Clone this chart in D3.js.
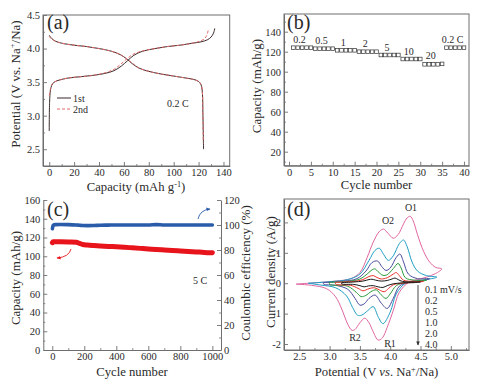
<!DOCTYPE html>
<html><head><meta charset="utf-8">
<script src="https://cdn.jsdelivr.net/npm/d3@7"></script>
<style>
body{margin:0;background:#fff}
svg{display:block;font-family:"Liberation Serif","Times New Roman",serif}
</style></head><body>
<svg id="c" width="487" height="392"></svg>
<script>
// ---------- Panel (a): charge/discharge profiles ----------
const capCh1 = [0, 0.3, 1, 2, 4, 8, 15, 25, 35, 45, 52, 58, 63, 68, 75, 85, 95, 105, 115, 122, 127, 130, 132, 133];
const vCh1   = [2.77, 3.2, 3.38, 3.45, 3.5, 3.53, 3.56, 3.58, 3.6, 3.63, 3.67, 3.74, 3.82, 3.9, 3.96, 4.0, 4.03, 4.05, 4.08, 4.1, 4.13, 4.17, 4.23, 4.3];
const capCh2 = [0, 1, 2, 4, 8, 15, 25, 35, 45, 52, 57, 62, 67, 74, 85, 95, 105, 115, 121, 125, 127, 128];
const vCh2   = [3.3, 3.4, 3.46, 3.5, 3.53, 3.56, 3.58, 3.6, 3.64, 3.69, 3.76, 3.84, 3.91, 3.96, 4.0, 4.03, 4.05, 4.08, 4.11, 4.15, 4.22, 4.3];
const capDis1 = [0, 2, 5, 10, 20, 30, 40, 50, 57, 62, 67, 72, 80, 90, 100, 110, 116, 120, 122, 123, 123.5, 124];
const vDis1   = [4.2, 4.15, 4.11, 4.08, 4.05, 4.03, 4.0, 3.96, 3.91, 3.85, 3.77, 3.71, 3.66, 3.62, 3.59, 3.56, 3.54, 3.51, 3.46, 3.35, 3.0, 2.5];
const capDis2 = [0, 2, 5, 10, 20, 30, 40, 50, 57, 62, 67, 72, 80, 90, 100, 110, 116, 120, 122, 123, 123.4, 123.8];
const vDis2   = [4.18, 4.14, 4.11, 4.08, 4.05, 4.03, 4.0, 3.96, 3.91, 3.85, 3.78, 3.71, 3.66, 3.62, 3.59, 3.56, 3.54, 3.51, 3.46, 3.36, 3.05, 2.6];
const capTicks = [0, 20, 40, 60, 80, 100, 120, 140];
const potTicks = [2.5, 3.0, 3.5, 4.0, 4.5];

// ---------- Panel (b): rate capability ----------
const rateCycles = d3.range(1, 41);
const rateCaps = [124,124,124,124,124, 123,123,123,123,123, 121.4,121.4,121.4,121.4,121.4,
                  120,120,120,120,120, 116.7,116.7,116.7,116.7,116.7, 112.7,112.7,112.7,112.7,112.7,
                  107.4,107.4,107.4,107.4,107.8, 124,124,124,124,124];
const rateLabels = ["0.2", "0.5", "1", "2", "5", "10", "20", "0.2 C"];
const cycTicksB = [0, 5, 10, 15, 20, 25, 30, 35, 40];
const capTicksB = [20, 40, 60, 80, 100, 120, 140];

// ---------- Panel (c): long cycling at 5 C ----------
const cycC = [1, 5, 20, 50, 100, 150, 170, 190, 220, 260, 300, 350, 400, 450, 500, 550, 600, 650, 700, 750, 800, 850, 900, 950, 1000];
const capC = [114.5, 115.5, 115.5, 115.4, 115.2, 114.9, 113.8, 112.5, 111.9, 111.4, 111.0, 110.5, 110.1, 109.6, 109.0, 108.4, 107.8, 107.3, 106.7, 106.1, 105.6, 105.1, 104.6, 104.1, 103.8];
const ceC  = [97, 99.8, 100.3, 100.4, 100.3, 100.0, 99.8, 99.6, 99.5, 99.6, 99.8, 99.9, 100, 100, 100, 100, 100, 100.3, 100, 100, 100, 100, 100, 100, 100];
const cycTicksC = [0, 200, 400, 600, 800, 1000];
const capTicksC = [0, 20, 40, 60, 80, 100, 120, 140, 160];
const ceTicksC = [0, 20, 40, 60, 80, 100, 120];

// ---------- Panel (d): CV at various scan rates ----------
const scanRates = ["0.1 mV/s", "0.2", "0.5", "1.0", "2.0", "4.0"];
const cvColors = ["#1a1a1a", "#e8322c", "#2a9a3c", "#4b4b9e", "#1f9fc4", "#e0659f"];
const cv01 = [[3.2,0.02],[3.4,0.04],[3.55,0.07],[3.65,0.12],[3.7,0.13],[3.76,0.1],[3.85,0.07],[3.95,0.09],[4.03,0.14],[4.08,0.17],[4.13,0.12],[4.2,0.06],[4.4,0.04],[4.5,0.04],[4.4,0.02],[4.2,0.01],[4.05,-0.02],[3.95,-0.08],[3.88,-0.14],[3.8,-0.12],[3.72,-0.08],[3.64,-0.09],[3.57,-0.12],[3.5,-0.08],[3.4,-0.04],[3.2,-0.02],[3.2,0.02]];
const cv02 = [[3.1,0.03],[3.4,0.06],[3.55,0.12],[3.65,0.22],[3.72,0.25],[3.78,0.19],[3.85,0.14],[3.95,0.18],[4.05,0.3],[4.1,0.35],[4.15,0.25],[4.22,0.1],[4.4,0.06],[4.55,0.06],[4.4,0.03],[4.2,0.0],[4.05,-0.05],[3.97,-0.18],[3.9,-0.28],[3.82,-0.22],[3.74,-0.15],[3.65,-0.18],[3.55,-0.25],[3.47,-0.17],[3.35,-0.07],[3.1,-0.03],[3.1,0.03]];
const cv05 = [[3.0,0.03],[3.3,0.06],[3.5,0.14],[3.63,0.32],[3.7,0.44],[3.75,0.47],[3.8,0.38],[3.88,0.26],[3.95,0.28],[4.05,0.48],[4.13,0.65],[4.18,0.5],[4.25,0.18],[4.4,0.1],[4.6,0.1],[4.45,0.05],[4.25,0.02],[4.1,-0.08],[4.0,-0.35],[3.93,-0.5],[3.85,-0.38],[3.77,-0.22],[3.68,-0.28],[3.6,-0.4],[3.52,-0.44],[3.44,-0.3],[3.3,-0.1],[3.0,-0.04],[3.0,0.03]];
const cv10 = [[2.9,0.02],[3.2,0.06],[3.45,0.15],[3.6,0.4],[3.7,0.68],[3.79,0.73],[3.86,0.55],[3.93,0.42],[4.0,0.5],[4.1,0.85],[4.16,0.96],[4.22,0.7],[4.3,0.3],[4.45,0.15],[4.65,0.15],[4.5,0.07],[4.3,0.03],[4.15,-0.1],[4.05,-0.5],[3.95,-0.83],[3.85,-0.65],[3.75,-0.39],[3.65,-0.5],[3.57,-0.68],[3.5,-0.72],[3.42,-0.5],[3.3,-0.2],[3.1,-0.07],[2.9,-0.03],[2.9,0.02]];
const cv20 = [[2.65,0.0],[3.0,0.05],[3.3,0.12],[3.5,0.3],[3.65,0.75],[3.75,1.08],[3.82,1.15],[3.89,0.95],[3.97,0.75],[4.05,0.9],[4.15,1.3],[4.22,1.42],[4.28,1.2],[4.36,0.7],[4.45,0.4],[4.6,0.25],[4.77,0.2],[4.6,0.12],[4.4,0.06],[4.25,0.0],[4.1,-0.35],[4.0,-0.95],[3.88,-1.33],[3.8,-1.1],[3.72,-0.77],[3.63,-0.9],[3.53,-1.05],[3.46,-1.05],[3.38,-0.8],[3.28,-0.42],[3.1,-0.15],[2.85,-0.06],[2.65,0.0]];
const cv40 = [[2.45,-0.03],[2.8,0.02],[3.1,0.07],[3.35,0.15],[3.5,0.35],[3.62,0.85],[3.72,1.35],[3.82,1.7],[3.89,1.78],[3.96,1.65],[4.05,1.48],[4.13,1.6],[4.22,1.95],[4.28,2.15],[4.33,2.2],[4.38,2.05],[4.45,1.6],[4.55,1.05],[4.65,0.7],[4.75,0.52],[4.85,0.47],[4.75,0.32],[4.6,0.2],[4.45,0.12],[4.3,0.02],[4.15,-0.3],[4.05,-0.9],[3.95,-1.45],[3.87,-1.8],[3.8,-1.87],[3.72,-1.6],[3.65,-1.3],[3.58,-1.15],[3.5,-1.3],[3.42,-1.52],[3.37,-1.55],[3.3,-1.35],[3.2,-0.85],[3.1,-0.45],[2.95,-0.18],[2.7,-0.07],[2.45,-0.03]];
const cvTicksX = [2.5, 3.0, 3.5, 4.0, 4.5, 5.0];
const cvTicksY = [-2, -1, 0, 1, 2];

// ================= drawing =================
const svg = d3.select("#c");
const AX = "#6e6e6e", TX = "#2a2a2a";
const TICK_FS = 10.5, XT_FS = 12.7, YT_FS = 13;

function styleAxis(sel) {
  sel.select(".domain").attr("stroke", AX).attr("stroke-width", 1);
  sel.selectAll(".tick line").attr("stroke", AX).attr("stroke-width", 0.9);
  sel.selectAll(".tick text").attr("fill", TX).attr("font-size", TICK_FS);
  sel.attr("font-family", null).attr("font-size", null);
}
function minor(g, axisGen, vals) {
  const s = g.append("g").call(axisGen.tickValues(vals).tickSize(-2).tickSizeOuter(0).tickFormat(""));
  s.select(".domain").remove();
  s.attr("font-family", null).attr("font-size", null);
  s.selectAll(".tick line").attr("stroke", AX).attr("stroke-width", 0.8);
  return s;
}
function box(x, y) {
  svg.append("rect").attr("x", x.range()[0]).attr("y", y.range()[1])
    .attr("width", x.range()[1] - x.range()[0]).attr("height", y.range()[0] - y.range()[1])
    .attr("fill", "none").attr("stroke", AX).attr("stroke-width", 1);
}
function bottomAxis(x, y, ticks, fmt, minorVals) {
  const g = svg.append("g").attr("transform", `translate(0,${y.range()[0]})`);
  g.call(d3.axisBottom(x).tickValues(ticks).tickSize(-4).tickSizeOuter(0).tickPadding(3).tickFormat(fmt));
  styleAxis(g);
  if (minorVals) minor(g, d3.axisBottom(x), minorVals);
}
function leftAxis(x, y, ticks, fmt, minorVals) {
  const g = svg.append("g").attr("transform", `translate(${x.range()[0]},0)`);
  g.call(d3.axisLeft(y).tickValues(ticks).tickSize(-4).tickSizeOuter(0).tickPadding(3).tickFormat(fmt));
  styleAxis(g);
  if (minorVals) minor(g, d3.axisLeft(y), minorVals);
}
function text(x, y, s, o) {
  o = o || {};
  const t = svg.append("text").attr("x", x).attr("y", y).attr("fill", TX)
    .attr("font-size", o.fs || 11).attr("text-anchor", o.anchor || "start");
  if (o.rot) t.attr("transform", `rotate(${o.rot},${x},${y})`);
  if (o.parts) {
    o.parts.forEach(p => {
      const ts = t.append("tspan").text(p.t);
      if (p.sup) ts.attr("baseline-shift", "super").attr("font-size", (o.fs || 11) * 0.65);
      if (p.it) ts.attr("font-style", "italic");
    });
  } else t.text(s);
  return t;
}
const defs = svg.append("defs");
function arrowMarker(id, color) {
  defs.append("marker").attr("id", id).attr("viewBox", "0 0 10 10").attr("refX", 8).attr("refY", 5)
    .attr("markerWidth", 5).attr("markerHeight", 5).attr("orient", "auto")
    .append("path").attr("d", "M0,1 L9,5 L0,9 Z").attr("fill", color);
}
arrowMarker("arB", "#2a5caa");
arrowMarker("arR", "#e8141c");
arrowMarker("arK", "#333");

// ---------- (a) ----------
const xA = d3.scaleLinear([-5, 145], [43, 229.7]);
const yA = d3.scaleLinear([2.25, 4.5], [166, 15]);
box(xA, yA);
bottomAxis(xA, yA, capTicks, d => d, d3.range(10, 141, 20));
leftAxis(xA, yA, potTicks, d3.format(".1f"), [2.75, 3.25, 3.75, 4.25]);
const lineAy = d3.line().x(d => xA(d[0])).y(d => yA(d[1])).curve(d3.curveCatmullRom);
const col1 = "#3b2b2b", col2 = "#e06a6a";
svg.append("path").attr("d", lineAy(d3.zip(capCh1, vCh1))).attr("fill", "none").attr("stroke", col1).attr("stroke-width", 1);
svg.append("path").attr("d", lineAy(d3.zip(capDis1, vDis1))).attr("fill", "none").attr("stroke", col1).attr("stroke-width", 1);
svg.append("path").attr("d", lineAy(d3.zip(capCh2, vCh2))).attr("fill", "none").attr("stroke", col2).attr("stroke-width", 1).attr("stroke-dasharray", "3,2");
svg.append("path").attr("d", lineAy(d3.zip(capDis2, vDis2))).attr("fill", "none").attr("stroke", col2).attr("stroke-width", 1).attr("stroke-dasharray", "3,2");
svg.append("line").attr("x1", 57).attr("x2", 71).attr("y1", 98).attr("y2", 98).attr("stroke", col1);
svg.append("line").attr("x1", 57).attr("x2", 71).attr("y1", 109).attr("y2", 109).attr("stroke", col2).attr("stroke-dasharray", "3,2");
text(73, 101.5, "1st", {fs: 10});
text(73, 112.5, "2nd", {fs: 10});
text(167, 107, "0.2 C", {fs: 10});
text(47, 29, "(a)", {fs: 20});
text(20, 84, null, {fs: YT_FS, anchor: "middle", rot: -90,
  parts: [{t: "Potential (V vs. Na"}, {t: "+", sup: true}, {t: "/Na)"}]});
text(136, 191, null, {fs: XT_FS, anchor: "middle",
  parts: [{t: "Capacity (mAh g"}, {t: "-1", sup: true}, {t: ")"}]});

// ---------- (b) ----------
const xB = d3.scaleLinear([-1.15, 41.15], [284, 469]);
const yB = d3.scaleLinear([6, 157.7], [165.7, 14]);
box(xB, yB);
bottomAxis(xB, yB, cycTicksB, d => d, d3.range(2.5, 40, 5));
leftAxis(xB, yB, capTicksB, d => d, d3.range(10, 151, 20));
svg.append("g").selectAll("rect").data(d3.zip(rateCycles, rateCaps)).join("rect")
  .attr("x", d => xB(d[0]) - 1.8).attr("y", d => yB(d[1]) - 1.8)
  .attr("width", 3.6).attr("height", 3.6).attr("fill", "none").attr("stroke", "#333").attr("stroke-width", 0.7);
rateLabels.forEach((lab, i) => {
  const c = rateCycles.slice(i * 5, i * 5 + 5), v = rateCaps.slice(i * 5, i * 5 + 5);
  text(xB(d3.mean(c) - 0.6), yB(d3.max(v)) - 4.5, lab, {fs: 10, anchor: "middle"});
});
text(287, 29, "(b)", {fs: 20});
text(261, 86, "Capacity (mAh/g)", {fs: YT_FS, anchor: "middle", rot: -90});
text(376.5, 189, "Cycle number", {fs: XT_FS, anchor: "middle"});

// ---------- (c) ----------
const xC = d3.scaleLinear([-56, 1054], [43.3, 221]);
const yCL = d3.scaleLinear([0, 160], [350, 200]);
const yCR = d3.scaleLinear([0, 120], [350, 200]);
bottomAxis(xC, yCL, cycTicksC, d => d, d3.range(100, 1001, 200));
leftAxis(xC, yCL, capTicksC, d => d, d3.range(10, 160, 20));
{
  const g = svg.append("g").attr("transform", `translate(${xC.range()[1]},0)`);
  g.call(d3.axisRight(yCR).tickValues(ceTicksC).tickSize(-4).tickSizeOuter(0).tickPadding(3));
  styleAxis(g);
  minor(g, d3.axisRight(yCR), d3.range(10, 120, 20));
}
const lineC = d3.line().curve(d3.curveMonotoneX);
svg.append("path").attr("d", lineC(d3.zip(cycC.map(xC), capC.map(yCL))))
  .attr("fill", "none").attr("stroke", "#e8141c").attr("stroke-width", 5).attr("stroke-linecap", "round");
svg.append("path").attr("d", lineC(d3.zip(cycC.map(xC), ceC.map(yCR))))
  .attr("fill", "none").attr("stroke", "#2a5caa").attr("stroke-width", 3.6).attr("stroke-linecap", "round");
svg.append("path").attr("d", "M198,219 Q200,210 210,209").attr("fill", "none").attr("stroke", "#2a5caa")
  .attr("stroke-width", 0.9).attr("marker-end", "url(#arB)");
svg.append("path").attr("d", "M71,249 Q69,257 57,258").attr("fill", "none").attr("stroke", "#e8141c")
  .attr("stroke-width", 0.9).attr("marker-end", "url(#arR)");
text(193, 284, "5 C", {fs: 10});
text(47, 216, "(c)", {fs: 20});
text(20, 278, "Capacity (mAh/g)", {fs: YT_FS, anchor: "middle", rot: -90});
text(250, 273, "Coulombic efficiency (%)", {fs: YT_FS, anchor: "middle", rot: -90});
text(132, 376, "Cycle number", {fs: XT_FS, anchor: "middle"});

// ---------- (d) ----------
const xD = d3.scaleLinear([2.2475, 5.3], [284, 469]);
const yD = d3.scaleLinear([-2.197, 2.77], [350, 199]);
box(xD, yD);
bottomAxis(xD, yD, cvTicksX, d3.format(".1f"), d3.range(2.75, 5.3, 0.5));
leftAxis(xD, yD, cvTicksY, d => d, [-1.5, -0.5, 0.5, 1.5, 2.5]);
const lineD = d3.line().x(d => xD(d[0])).y(d => yD(d[1])).curve(d3.curveCatmullRom.alpha(0.5));
const cvAll = [cv01, cv02, cv05, cv10, cv20, cv40];
cvAll.slice().reverse().forEach((c, i) => {
  svg.append("path").attr("d", lineD(c)).attr("fill", "none")
    .attr("stroke", cvColors[cvAll.length - 1 - i]).attr("stroke-width", 1);
});
scanRates.forEach((s, i) => text(425, 293 + i * 10.9, s, {fs: 10}));
svg.append("line").attr("x1", 418).attr("x2", 418).attr("y1", 285).attr("y2", 345)
  .attr("stroke", "#333").attr("stroke-width", 0.9).attr("marker-end", "url(#arK)");
text(411, 211, "O1", {fs: 10, anchor: "middle"});
text(388, 224, "O2", {fs: 10, anchor: "middle"});
text(355, 341, "R2", {fs: 10, anchor: "middle"});
text(390, 347, "R1", {fs: 10, anchor: "middle"});
text(287, 216, "(d)", {fs: 20});
text(275, 272, "Current density (A/g)", {fs: YT_FS, anchor: "middle", rot: -90});
text(376.5, 376, null, {fs: XT_FS, anchor: "middle",
  parts: [{t: "Potential (V "}, {t: "vs", it: true}, {t: ". Na"}, {t: "+", sup: true}, {t: "/Na)"}]});
</script></body></html>
